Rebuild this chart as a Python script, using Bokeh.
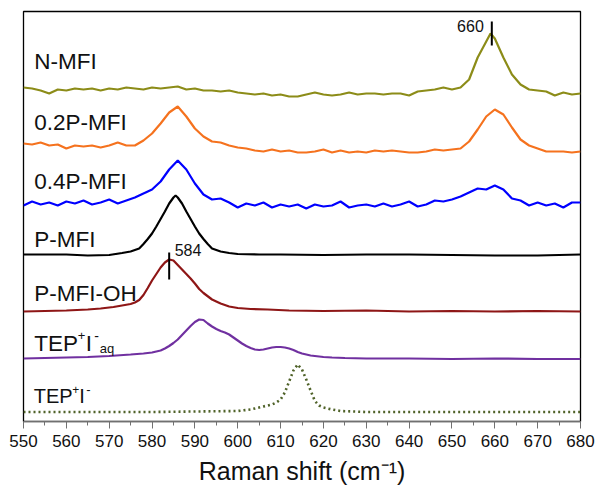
from bokeh.plotting import figure
from bokeh.models import Range1d, SingleIntervalTicker, Label
from bokeh.embed import file_html
from bokeh.resources import INLINE

# ---------------- data (stacked Raman spectra, arbitrary offset units) ----------------
grid2 = list(range(550, 681, 2))

nmfi_x = list(range(550, 659, 2)) + [659] + list(range(660, 681, 2))
nmfi_y = [334, 333, 331, 328, 332, 331, 333, 332, 333, 331, 333,
          332, 334, 333, 332, 334, 333, 334, 335, 332, 333, 331,
          331, 330, 331, 329, 328, 327, 328, 326, 327, 325, 325,
          327, 329, 327, 326, 327, 329, 327, 328, 328, 327, 328,
          328, 326, 330, 331, 332, 334, 332, 334, 342, 364, 380,
          388,
          383, 364, 347, 337, 332, 331, 330, 326, 329, 327, 328]

p02_y = [278, 277, 279, 276, 277, 273, 276, 275, 276, 274, 276,
         279, 276, 276, 281, 288, 298, 309, 315, 305, 293, 285,
         280, 279, 276, 274, 273, 271, 270, 272, 270, 271, 269,
         269, 270, 272, 269, 271, 269, 270, 269, 271, 270, 271,
         270, 269, 269, 270, 272, 271, 272, 273, 280, 292, 305,
         312, 307, 294, 282, 276, 273, 270, 270, 270, 269, 270]

p04_y = [216, 220, 217, 219, 216, 220, 218, 221, 217, 219, 222,
         218, 221, 224, 228, 232, 240, 252, 261, 252, 238, 227,
         222, 223, 219, 214, 218, 216, 219, 214, 217, 215, 217,
         213, 217, 215, 216, 220, 214, 216, 217, 215, 218, 215,
         217, 220, 215, 217, 221, 220, 222, 225, 229, 233, 232,
         236, 232, 223, 221, 216, 219, 216, 218, 214, 219, 219]

pmfi_x = [550, 555, 560, 565, 570, 573, 575, 577, 578, 579, 580, 581, 582, 583, 584,
          585, 585.5, 586, 587, 588, 589, 590, 591, 592, 593, 594, 596, 598, 600, 605,
          610, 620, 630, 640, 650, 660, 670, 680]
pmfi_y = [167, 167, 167, 166, 166.5, 168.5, 170, 173, 177.5, 182.5, 188, 195, 202.5, 210, 218,
          224, 226, 224, 218, 210, 202.5, 195, 188, 182.5, 177.5, 173, 170, 168.5, 167.5, 167,
          167, 166.5, 167, 167, 166.5, 166, 166, 167]

oh_x = [550, 555, 560, 565, 568, 571, 573, 575, 576, 577, 578, 579, 580, 581, 582, 583,
        584, 585, 586, 587, 588, 589, 590, 591, 592, 594, 596, 598, 600, 603, 607, 612,
        620, 630, 640, 650, 660, 670, 680]
oh_y = [110, 110.5, 111, 112, 113, 114.5, 116, 117.5, 119, 121.5, 126.5, 133.5, 141, 147.5, 154, 159,
        162, 161, 156.5, 152, 147.5, 143, 138, 132.5, 128.5, 122, 118, 115, 113.5, 112.5, 112, 111,
        110.5, 111, 110, 110.5, 110, 110.5, 110]

aq_x = [550, 555, 560, 565, 570, 575, 578, 580,
        582, 583, 584, 585, 586, 587, 588, 589, 590, 591, 592, 593, 594, 595, 596, 597, 598,
        599, 600, 601, 602, 603, 604, 605, 606, 607, 608, 609, 610, 611, 612, 613, 614, 615,
        616, 617, 618,
        620, 622, 625, 630, 640, 650, 660, 670, 680]
aq_y = [63, 63.5, 64, 64.5, 65.5, 67, 68, 69,
        71, 73, 75.5, 78.5, 82, 86.5, 91, 95.5, 99.5, 102, 101.5, 98, 95, 92.5, 90.5, 89, 87,
        84, 81, 78, 75.5, 73.5, 72, 71.5, 72, 73, 74, 74.5, 74.5, 74, 73, 71.5, 69.5, 68,
        67, 66, 65.5,
        64.5, 64, 63.5, 63, 63, 62.5, 63, 62.5, 62.5]

tep_x = [550, 560, 570, 580, 590, 600, 603, 606, 608, 609, 610, 611, 612, 613, 614,
         615, 616, 617, 618, 619, 620, 622, 624, 627, 630, 640, 650, 660, 670, 680]
tep_y = [9.5, 9.5, 9.5, 9.5, 10, 10.5, 12, 15, 17, 19, 22, 29, 40, 51, 57,
         52, 42, 31, 20.5, 16, 14, 12, 10.5, 10, 9.5, 9.5, 9.5, 9.5, 9.5, 9.5]

x_ticks = list(range(550, 681, 10))
peak_positions = [659.3, 584]
peak_labels = ["660", "584"]

sample_names = ["N-MFI", "0.2P-MFI", "0.4P-MFI", "P-MFI", "P-MFI-OH"]

# ---------------- styling ----------------
FONT = "Liberation Sans"
colors = {
    "nmfi": "#8C8C18",
    "p02": "#F5721E",
    "p04": "#0000FF",
    "pmfi": "#000000",
    "oh": "#8E1616",
    "aq": "#7030A0",
    "tep": "#4F6228",
}

p = figure(width=597, height=488, output_backend="svg", toolbar_location=None,
           x_range=Range1d(550, 680), y_range=Range1d(0, 410),
           y_axis_type=None,
           min_border_left=23, min_border_right=17, min_border_top=11, min_border_bottom=67)
p.background_fill_color = "white"
p.border_fill_color = "white"
p.outline_line_color = "black"
p.outline_line_width = 1.3
p.xgrid.visible = False

ax = p.xaxis[0]
ax.ticker = SingleIntervalTicker(interval=10, num_minor_ticks=2)
ax.major_tick_out = 7
ax.major_tick_in = 0
ax.minor_tick_out = 4
ax.minor_tick_in = 0
ax.axis_line_color = "#707070"
ax.major_tick_line_color = "#707070"
ax.minor_tick_line_color = "#707070"
ax.major_label_text_font = FONT
ax.major_label_text_font_size = "17px"
ax.major_label_text_color = "#111111"
ax.major_label_standoff = 6
ax.axis_label = "Raman shift (cm\u207b\u00b9)"
ax.axis_label_text_font = FONT
ax.axis_label_text_font_size = "25px"
ax.axis_label_text_font_style = "normal"
ax.axis_label_text_color = "#111111"
ax.axis_label_standoff = 7

lw = 2.2
p.line(nmfi_x, nmfi_y, line_color=colors["nmfi"], line_width=lw)
p.line(grid2, p02_y, line_color=colors["p02"], line_width=lw)
p.line(grid2, p04_y, line_color=colors["p04"], line_width=lw)
p.line(pmfi_x, pmfi_y, line_color=colors["pmfi"], line_width=lw)
p.line(oh_x, oh_y, line_color=colors["oh"], line_width=lw)
p.line(aq_x, aq_y, line_color=colors["aq"], line_width=lw)
p.line(tep_x, tep_y, line_color=colors["tep"], line_width=2.6, line_dash="2 3")

# vertical correction for how labels sit relative to their baseline
DY = 7.5

# peak markers
marker_bottom = [376, 142]
marker_top = [400, 169]
p.segment(x0=peak_positions, y0=marker_bottom, x1=peak_positions, y1=marker_top,
          line_color="black", line_width=2)
p.add_layout(Label(x=peak_positions[0], y=388 + DY, text=peak_labels[0], x_offset=-8,
                   text_align="right", text_baseline="alphabetic",
                   text_font=FONT, text_font_size="16px", text_color="#111111"))
p.add_layout(Label(x=peak_positions[1], y=164 + DY, text=peak_labels[1], x_offset=5.5,
                   text_align="left", text_baseline="alphabetic",
                   text_font=FONT, text_font_size="16px", text_color="#111111"))

# sample labels
label_x = 552.5
name_baselines = [353, 292, 233, 175, 121]
for name, yb in zip(sample_names, name_baselines):
    p.add_layout(Label(x=label_x, y=yb + DY, text=name, text_align="left",
                       text_baseline="alphabetic", text_font=FONT,
                       text_font_size="22.5px", text_color="#111111"))


def piece(text, y, dx, size):
    p.add_layout(Label(x=label_x, y=y + DY, x_offset=dx, text=text, text_align="left",
                       text_baseline="alphabetic", text_font=FONT,
                       text_font_size=size, text_color="#111111"))


# TEP+I- aq
yb = 70.5
piece("TEP", yb, 0, "22.5px")
piece("+", yb + 8, 43.5, "13px")
piece("I", yb, 51.5, "22.5px")
piece("-", yb + 8, 60, "14px")
piece("aq", yb - 5, 65.5, "13px")

# TEP+I-
yb = 18
piece("TEP", yb, -0.5, "20px")
piece("+", yb + 7, 38, "12px")
piece("I", yb, 45, "20px")
piece("-", yb + 7, 52, "13px")

open("out.html", "w").write(file_html(p, INLINE))
